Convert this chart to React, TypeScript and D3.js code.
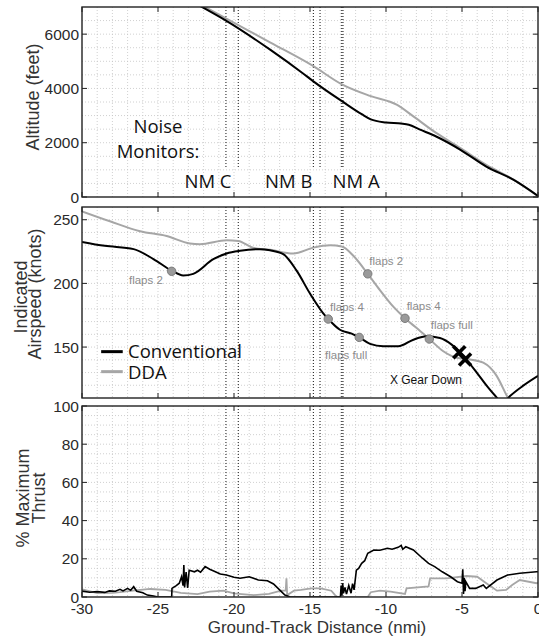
import React from 'react';
import * as d3 from 'd3';

const W = 539;
const H = 638;

// ---------- data ----------
const xTicks = [-30, -25, -20, -15, -10, -5, 0];
const monitorLines = [-20.53, -19.72, -14.78, -14.34, -12.91, -12.83];

const altConv: [number, number][] = [
  [-22.3, 7060], [-20.5, 6490], [-17.6, 5420], [-15.5, 4570], [-14.8, 4270],
  [-12.9, 3530], [-11.6, 3050], [-11.0, 2860], [-10.0, 2745], [-9.0, 2705],
  [-8.5, 2660], [-7.8, 2490], [-6.7, 2230], [-5.1, 1740], [-3.4, 1120],
  [-1.6, 630], [0, 40],
];
const altDDA: [number, number][] = [
  [-22.1, 7060], [-20.5, 6570], [-17.6, 5690], [-14.8, 4830], [-12.9, 4150],
  [-11.0, 3715], [-9.3, 3400], [-8.2, 2970], [-6.7, 2360], [-5.1, 1800],
  [-3.4, 1185], [-1.6, 640], [0, 30],
];

const iasConv: [number, number][] = [
  [-30, 232.6], [-28.5, 229.5], [-26.6, 226.9], [-25.3, 219.1], [-24.1, 210],
  [-23.34, 206.2], [-22.68, 207.5], [-21.36, 219], [-20.48, 223.5], [-19.6, 225.6],
  [-18.29, 226.9], [-17.63, 226], [-16.76, 223], [-15.88, 210], [-15.0, 192],
  [-14.13, 176.5], [-13.8, 172], [-13.03, 163.6], [-12.26, 160.5], [-11.76, 157.6],
  [-11.05, 152.5], [-10.18, 150.6], [-9.19, 150.6], [-8.2, 155.8], [-7.32, 158.4],
  [-6.45, 157.1], [-5.68, 151.9], [-4.91, 142.9], [-4.03, 130], [-3.38, 119.7],
  [-2.83, 112], [-2.3, 106], [-1.84, 111.5], [-0.97, 119.7], [0, 127.4],
];
const iasDDA: [number, number][] = [
  [-30, 256.6], [-28.16, 248.8], [-26.18, 241], [-24.43, 237.2], [-22.9, 231.3],
  [-22.24, 230.8], [-20.48, 233.9], [-19.72, 233.3], [-18.75, 228], [-17.63, 226.4],
  [-16.1, 223.5], [-14.78, 228.1], [-13.68, 229.9], [-12.91, 228.9], [-12.15, 221.7],
  [-11.2, 207.5], [-10.39, 194.6], [-9.52, 181.7], [-8.75, 172.6], [-7.98, 164.9],
  [-7.15, 156.3], [-6.23, 146.7], [-5.35, 141.6], [-4.47, 140.3], [-3.6, 137.7],
  [-2.72, 127.4], [-2.06, 111.9], [-1.7, 104],
];

const thrConv: [number, number][] = [
  [-30, 3.1], [-29.5, 2.5], [-29, 2.8], [-28.5, 2.4], [-28.2, 3.2], [-27.8, 3.0],
  [-27.5, 4.0], [-27.3, 3.2], [-27.0, 4.5], [-26.8, 3.5], [-26.6, 5.4], [-26.4, 3.0],
  [-26.0, 2.2], [-25.7, 1.0], [-25.3, 0.5], [-25.0, 0], [-24.1, 0], [-24.08, 4.5],
  [-23.8, 6], [-23.6, 7.2], [-23.45, 10.6], [-23.35, 6], [-23.3, 16.8], [-23.25, 5],
  [-23.15, 13], [-23.05, 4.7], [-22.95, 14], [-22.6, 13.2], [-22.4, 14], [-22.2, 13],
  [-21.9, 15.9], [-21.6, 14.5], [-21.3, 13.5], [-20.9, 12], [-20.5, 11.5], [-20.0, 10.3],
  [-19.6, 9.8], [-19.0, 10.6], [-18.4, 8.9], [-17.8, 8.5], [-17.4, 6.8], [-17.0, 3.7],
  [-16.65, 1.0], [-16.3, 0], [-13.0, 0], [-12.95, 6], [-12.9, 1], [-12.85, 7.2],
  [-12.8, 2], [-12.7, 5], [-12.6, 1.5], [-12.45, 6], [-12.3, 2], [-12.2, 7],
  [-12.1, 3.7], [-11.95, 14], [-11.8, 15], [-11.6, 17.6], [-11.4, 19], [-11.2, 22.9],
  [-10.8, 24.6], [-10.4, 24.5], [-9.9, 25.5], [-9.6, 25], [-9.2, 26], [-9.0, 27],
  [-8.9, 25], [-8.7, 26.3], [-8.2, 24.6], [-7.6, 20.3], [-7.2, 17.6], [-6.8, 15.9],
  [-6.3, 13.2], [-5.75, 10.6], [-5.3, 8], [-5.0, 7.2], [-4.95, 14.5], [-4.9, 1.6],
  [-4.85, 10], [-4.8, 3], [-4.75, 8], [-4.5, 4.5], [-4.1, 4.5], [-3.6, 6.3],
  [-3.4, 4.5], [-2.7, 8.9], [-2.0, 11.5], [-1.2, 12.4], [-0.1, 13.2], [0, 13.2],
];
const thrDDA: [number, number][] = [
  [-30, 4], [-29, 2], [-28, 2.2], [-27.5, 2.5], [-26.5, 3.5], [-25.5, 4.2],
  [-24.5, 3.7], [-23.5, 2.2], [-22.4, 1.5], [-21.6, 2.8], [-20.7, 3.3], [-20.0, 1.9],
  [-19.5, 1.5], [-18.7, 1.0], [-17.7, 1.6], [-16.9, 3.3], [-16.6, 3.3], [-16.55, 9.8],
  [-16.5, 1], [-16.05, 3.3], [-15.6, 3.7], [-14.9, 4.5], [-14.3, 4.5], [-13.6, 3.3],
  [-13.35, 1], [-13.2, 0], [-11.2, 0], [-11.0, 2.5], [-10.4, 3.3], [-9.7, 2.8],
  [-8.75, 1.6], [-8.65, 4.5], [-7.2, 5.5], [-7.1, 9.8], [-6.0, 9.8], [-4.7, 11],
  [-4.0, 10.6], [-3.4, 7.2], [-2.7, 3.3], [-2.1, 3.7], [-1.7, 6.3], [-1.2, 8.9],
  [-0.1, 7.2], [0, 7.5],
];

const flapMarkers: [number, number][] = [
  [-24.1, 209.5], [-11.2, 207.5], [-13.8, 172], [-8.75, 172.6], [-11.76, 157.6], [-7.15, 156.3],
];
const flapLabels: { text: string; x: number; y: number }[] = [
  { text: 'flaps 2', x: -26.91, y: 199.5 },
  { text: 'flaps 2', x: -11.1, y: 214.8 },
  { text: 'flaps 4', x: -13.68, y: 178.7 },
  { text: 'flaps 4', x: -8.64, y: 179.5 },
  { text: 'flaps full', x: -7.06, y: 163.8 },
  { text: 'flaps full', x: -14.01, y: 141 },
];
const gearMarkers: [number, number][] = [[-5.18, 146], [-4.8, 140.3]];
const gearLabel = { text: 'X Gear Down', x: -9.74, y: 120.8 };

const monitorTexts: { text: string; x: number; y: number }[] = [
  { text: 'Noise', x: -25, y: 2369 },
  { text: 'Monitors:', x: -25, y: 1426 },
  { text: 'NM C', x: -21.71, y: 320 },
  { text: 'NM B', x: -16.4, y: 320 },
  { text: 'NM A', x: -11.97, y: 320 },
];

const legendItems = [
  { text: 'Conventional', color: '#000', x0: -28.74, x1: -27.32, tx: -26.97, ly: 146.4, ty: 141.4 },
  { text: 'DDA', color: '#a6a6a6', x0: -28.74, x1: -27.32, tx: -26.97, ly: 130.7, ty: 124.9 },
];

// ---------- layout ----------
const X0 = 82;
const X1 = 538;
const x = d3.scaleLinear().domain([-30, 0]).range([X0, X1]);

type Panel = {
  key: string; top: number; bottom: number; domain: [number, number];
  ticks: number[]; gridStep: number;
};
const panels: Panel[] = [
  { key: 'alt', top: 7, bottom: 197, domain: [0, 7000], ticks: [0, 2000, 4000, 6000], gridStep: 500 },
  { key: 'ias', top: 207, bottom: 398, domain: [110, 260], ticks: [150, 200, 250], gridStep: 10 },
  { key: 'thr', top: 406, bottom: 597, domain: [0, 100], ticks: [0, 20, 40, 60, 80, 100], gridStep: 5 },
];

const TICK_FONT = '"Liberation Sans", Arial, Helvetica, sans-serif';
const ANNO_FONT = '"Open Sans", Lato, sans-serif';
const CONV = '#000';
const DDA = '#a6a6a6';

function PanelFrame({ p, children }: { p: Panel; children?: React.ReactNode }) {
  const y = d3.scaleLinear().domain(p.domain).range([p.bottom, p.top]);
  const vgrid = d3.range(-29, 0, 1);
  const hgrid = d3.range(p.domain[0] + p.gridStep, p.domain[1] - 1e-6, p.gridStep);
  const tl = 5;
  return (
    <g>
      {vgrid.map((v) => (
        <line key={'v' + v} x1={x(v)} x2={x(v)} y1={p.top} y2={p.bottom}
          stroke="#c4c4c4" strokeWidth={0.8} strokeDasharray="1,2" />
      ))}
      {hgrid.map((v) => (
        <line key={'h' + v} x1={X0} x2={X1} y1={y(v)} y2={y(v)}
          stroke="#c4c4c4" strokeWidth={0.8} strokeDasharray="1,2" />
      ))}
      {children}
      {xTicks.map((t) => (
        <g key={'xt' + t}>
          <line x1={x(t)} x2={x(t)} y1={p.bottom} y2={p.bottom - tl} stroke="#222" strokeWidth={1} />
          <line x1={x(t)} x2={x(t)} y1={p.top} y2={p.top + tl} stroke="#222" strokeWidth={1} />
        </g>
      ))}
      {p.ticks.map((t) => (
        <g key={'yt' + t}>
          <line x1={X0} x2={X0 + tl} y1={y(t)} y2={y(t)} stroke="#222" strokeWidth={1} />
          <line x1={X1} x2={X1 - tl} y1={y(t)} y2={y(t)} stroke="#222" strokeWidth={1} />
          <text x={X0 - 3} y={y(t)} dy="0.36em" textAnchor="end" fontFamily={TICK_FONT}
            fontSize={15.5} fill="#2a2a2a">{t}</text>
        </g>
      ))}
      <rect x={X0} y={p.top} width={X1 - X0} height={p.bottom - p.top} fill="none"
        stroke="#222" strokeWidth={1.4} />
    </g>
  );
}

export default function App() {
  const [pAlt, pIas, pThr] = panels;
  const yAlt = d3.scaleLinear().domain(pAlt.domain).range([pAlt.bottom, pAlt.top]);
  const yIas = d3.scaleLinear().domain(pIas.domain).range([pIas.bottom, pIas.top]);
  const yThr = d3.scaleLinear().domain(pThr.domain).range([pThr.bottom, pThr.top]);

  const smoothAlt = d3.line<[number, number]>().x((d) => x(d[0])).y((d) => yAlt(d[1])).curve(d3.curveMonotoneX);
  const smoothIas = d3.line<[number, number]>().x((d) => x(d[0])).y((d) => yIas(d[1])).curve(d3.curveMonotoneX);
  const lineThr = d3.line<[number, number]>().x((d) => x(d[0])).y((d) => yThr(d[1]));

  const monitorStyle = { stroke: '#111', strokeWidth: 1, strokeDasharray: '1,2' };

  return (
    <svg width={W} height={H} style={{ position: 'absolute', left: 0, top: 0, background: '#fff' }}>
      <defs>
        {panels.map((p) => (
          <clipPath id={'clip-' + p.key} key={p.key}>
            <rect x={X0} y={p.top} width={X1 - X0} height={p.bottom - p.top} />
          </clipPath>
        ))}
      </defs>
      <rect x={0} y={0} width={W} height={H} fill="#fff" />

      {/* Altitude panel */}
      <PanelFrame p={pAlt}>
        {monitorLines.map((m) => (
          <line key={'ma' + m} x1={x(m)} x2={x(m)} y1={pAlt.top} y2={yAlt(1100)} {...monitorStyle} />
        ))}
        <g clipPath="url(#clip-alt)">
          <path d={smoothAlt(altDDA) || ''} fill="none" stroke={DDA} strokeWidth={2} />
          <path d={smoothAlt(altConv) || ''} fill="none" stroke={CONV} strokeWidth={2} />
        </g>
        {monitorTexts.map((t, i) => (
          <text key={'mt' + i} x={x(t.x)} y={yAlt(t.y)} textAnchor="middle" fontFamily={ANNO_FONT}
            fontSize={18.5} fill="#111">{t.text}</text>
        ))}
      </PanelFrame>

      {/* Airspeed panel */}
      <PanelFrame p={pIas}>
        {monitorLines.map((m) => (
          <line key={'mi' + m} x1={x(m)} x2={x(m)} y1={pIas.top} y2={pIas.bottom} {...monitorStyle} />
        ))}
        <g clipPath="url(#clip-ias)">
          <path d={smoothIas(iasDDA) || ''} fill="none" stroke={DDA} strokeWidth={2} />
          <path d={smoothIas(iasConv) || ''} fill="none" stroke={CONV} strokeWidth={2} />
        </g>
        {flapMarkers.map((m, i) => (
          <circle key={'fm' + i} cx={x(m[0])} cy={yIas(m[1])} r={4.2} fill="#9a9a9a" stroke="#7a7a7a" strokeWidth={1} />
        ))}
        {gearMarkers.map((m, i) => (
          <path key={'gm' + i} transform={`translate(${x(m[0])},${yIas(m[1])})`}
            d="M-6,-6L6,6M-6,6L6,-6" stroke="#000" strokeWidth={3.6} fill="none" />
        ))}
        {flapLabels.map((l, i) => (
          <text key={'fl' + i} x={x(l.x)} y={yIas(l.y)} fontFamily={TICK_FONT} fontSize={11.5}
            fill="#8c8c8c">{l.text}</text>
        ))}
        <text x={x(gearLabel.x)} y={yIas(gearLabel.y)} fontFamily={TICK_FONT} fontSize={12}
          fill="#111">{gearLabel.text}</text>
        {legendItems.map((l) => (
          <g key={l.text}>
            <line x1={x(l.x0)} x2={x(l.x1)} y1={yIas(l.ly)} y2={yIas(l.ly)} stroke={l.color} strokeWidth={3} />
            <text x={x(l.tx)} y={yIas(l.ty)} fontFamily={ANNO_FONT} fontSize={18.5} fill="#111">{l.text}</text>
          </g>
        ))}
      </PanelFrame>

      {/* Thrust panel */}
      <PanelFrame p={pThr}>
        {monitorLines.map((m) => (
          <line key={'mt' + m} x1={x(m)} x2={x(m)} y1={pThr.top} y2={pThr.bottom} {...monitorStyle} />
        ))}
        <g clipPath="url(#clip-thr)">
          <path d={lineThr(thrDDA) || ''} fill="none" stroke={DDA} strokeWidth={1.8} />
          <path d={lineThr(thrConv) || ''} fill="none" stroke={CONV} strokeWidth={1.6} />
        </g>
      </PanelFrame>

      {/* x tick labels */}
      {xTicks.map((t) => (
        <text key={'xl' + t} x={x(t)} y={614} textAnchor="middle" fontFamily={TICK_FONT}
          fontSize={15.5} fill="#2a2a2a">{t}</text>
      ))}
      <text x={317} y={633} textAnchor="middle" fontFamily={TICK_FONT} fontSize={17} fill="#333">
        Ground-Track Distance (nmi)
      </text>

      {/* y axis titles */}
      <text transform="translate(39,97) rotate(-90)" textAnchor="middle" fontFamily={TICK_FONT}
        fontSize={18} fill="#333">Altitude (feet)</text>
      <text transform="translate(27,297) rotate(-90)" textAnchor="middle" fontFamily={TICK_FONT}
        fontSize={18} fill="#333">Indicated</text>
      <text transform="translate(41,294) rotate(-90)" textAnchor="middle" fontFamily={TICK_FONT}
        fontSize={18} fill="#333">Airspeed (knots)</text>
      <text transform="translate(29,498) rotate(-90)" textAnchor="middle" fontFamily={TICK_FONT}
        fontSize={18} fill="#333">% Maximum</text>
      <text transform="translate(45,498) rotate(-90)" textAnchor="middle" fontFamily={TICK_FONT}
        fontSize={18} fill="#333">Thrust</text>
    </svg>
  );
}
